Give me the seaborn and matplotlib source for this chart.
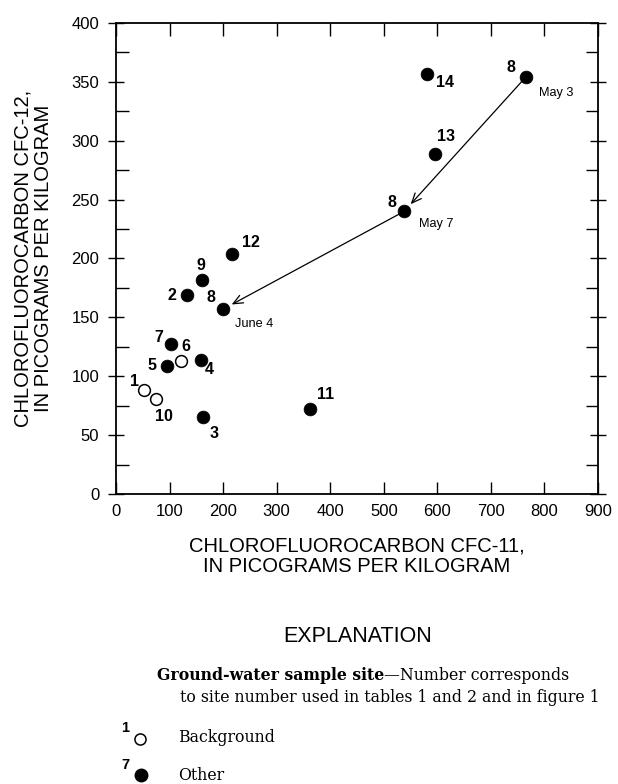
import matplotlib
matplotlib.use("Agg")
import matplotlib.pyplot as plt
from matplotlib.lines import Line2D
import seaborn as sns
import pandas as pd
from matplotlib.ticker import MultipleLocator

# ---- data ----
site = ["1", "10", "6", "5", "7", "4", "3", "2", "9", "8", "12", "11", "8", "13", "14", "8"]
cfc11 = [53, 75, 122, 96, 102, 159, 162, 133, 161, 200, 217, 362, 538, 595, 580, 765]
cfc12 = [88, 81, 113, 109, 127, 114, 65, 169, 182, 157, 204, 72, 240, 289, 357, 354]
kind = ["Background", "Background", "Background", "Other", "Other", "Other", "Other", "Other",
        "Other", "Other", "Other", "Other", "Other", "Other", "Other", "Other"]
date = ["", "", "", "", "", "", "", "", "", "June 4", "", "", "May 7", "", "", "May 3"]
# sequence of site 8 samples (indices into the arrays): May 3 -> May 7 -> June 4
site8_sequence = [15, 12, 9]

x_ticks = [0, 100, 200, 300, 400, 500, 600, 700, 800, 900]
y_ticks = [0, 50, 100, 150, 200, 250, 300, 350, 400]

# label offsets (pixels) -- style only
num_off = [(-10, 9), (8, -18), (5, 14), (-15, 0), (-12, 7), (8, -10), (11, -16), (-15, 0),
           (-1, 14), (-12, 12), (19, 11), (16, 15), (-12, 9), (11, 17), (18, -9), (-15, 10)]
date_off = {9: (31, -15), 12: (32, -13), 15: (30, -16)}

df = pd.DataFrame({"site": site, "cfc11": cfc11, "cfc12": cfc12, "kind": kind})

sns.set_style("white")
plt.rcParams["font.family"] = ["Liberation Sans", "DejaVu Sans"]
for k in ["text.color", "axes.labelcolor", "xtick.color", "ytick.color", "axes.edgecolor"]:
    plt.rcParams[k] = "black"

W, H = 618, 784
fig = plt.figure(figsize=(W / 100, H / 100), dpi=100)
L, R, T, B = 116, 598, 23, 494
ax = fig.add_axes([L / W, 1 - B / H, (R - L) / W, (B - T) / H])

other = df[df["kind"] == "Other"]
bg = df[df["kind"] == "Background"]
sns.scatterplot(data=other, x="cfc11", y="cfc12", ax=ax, color="black", s=85,
                edgecolor="black", linewidth=0.5, zorder=3, legend=False)
sns.scatterplot(data=bg, x="cfc11", y="cfc12", ax=ax, color="white", s=72,
                edgecolor="black", linewidth=1.1, zorder=3, legend=False)

# arrows for site 8 sequence
for a, b in zip(site8_sequence[:-1], site8_sequence[1:]):
    ax.annotate("", xy=(cfc11[b], cfc12[b]), xytext=(cfc11[a], cfc12[a]),
                arrowprops=dict(arrowstyle="->,head_length=0.7,head_width=0.3",
                                color="black", lw=0.9, shrinkA=0, shrinkB=7),
                zorder=2)

for i in range(len(site)):
    ax.annotate(site[i], xy=(cfc11[i], cfc12[i]), xytext=num_off[i],
                textcoords="offset pixels", ha="center", va="center",
                fontsize=11.5, fontweight="bold")
    if date[i]:
        ax.annotate(date[i], xy=(cfc11[i], cfc12[i]), xytext=date_off[i],
                    textcoords="offset pixels", ha="center", va="center",
                    fontsize=9.2)

ax.set_xlim(0, 900)
ax.set_ylim(0, 400)
ax.set_xticks(x_ticks)
ax.set_yticks(y_ticks)
ax.set_xticklabels([str(v) for v in x_ticks], fontsize=12)
ax.set_yticklabels([str(v) for v in y_ticks], fontsize=12)
ax.yaxis.set_minor_locator(MultipleLocator(25))
ax.tick_params(axis="x", which="major", direction="in", length=9, width=1,
               top=True, bottom=True, pad=7)
ax.tick_params(axis="y", which="major", direction="inout", length=12, width=1,
               left=True, right=True, pad=6)
ax.tick_params(axis="y", which="minor", direction="in", length=9, width=1,
               left=True, right=True)
for sp in ax.spines.values():
    sp.set_linewidth(1.3)

ax.set_xlabel("CHLOROFLUOROCARBON CFC-11,\nIN PICOGRAMS PER KILOGRAM",
              fontsize=14.5, linespacing=1.1)
ax.xaxis.set_label_coords(0.5, (B - 537) / (B - T))
ax.set_ylabel("CHLOROFLUOROCARBON CFC-12,\nIN PICOGRAMS PER KILOGRAM",
              fontsize=14.5, linespacing=1.1)
ax.yaxis.set_label_coords((53 - L) / (R - L), (B - 258) / (B - T))

# explanation
fig.text(358 / W, 1 - 636 / H, "EXPLANATION", ha="center", va="center", fontsize=15.5)
serif = ["DejaVu Serif"]
t1 = fig.text(157 / W, 1 - 675 / H, "Ground-water sample site", ha="left", va="center",
              fontsize=11.3, fontweight="bold", family=serif)
fig.canvas.draw()
bb = t1.get_window_extent()
fig.text(bb.x1 / W, 1 - 675 / H, "\u2014Number corresponds", ha="left", va="center",
         fontsize=11.3, family=serif)
fig.text(180 / W, 1 - 698 / H, "to site number used in tables 1 and 2 and in figure 1",
         ha="left", va="center", fontsize=11.3, family=serif)

fig.text(125 / W, 1 - 728 / H, "1", ha="center", va="center", fontsize=10.5, fontweight="bold")
fig.text(125 / W, 1 - 765 / H, "7", ha="center", va="center", fontsize=10.5, fontweight="bold")
fig.lines.append(Line2D([140 / W], [1 - 739 / H], marker="o", markersize=8,
                        markerfacecolor="white", markeredgecolor="black",
                        markeredgewidth=1.1, transform=fig.transFigure))
fig.lines.append(Line2D([141 / W], [1 - 775 / H], marker="o", markersize=9,
                        markerfacecolor="black", markeredgecolor="black",
                        transform=fig.transFigure))
fig.text(178 / W, 1 - 738 / H, "Background", ha="left", va="center", fontsize=11.3, family=serif)
fig.text(178 / W, 1 - 775 / H, "Other", ha="left", va="center", fontsize=11.3, family=serif)

fig.savefig("out.png", dpi=100)
